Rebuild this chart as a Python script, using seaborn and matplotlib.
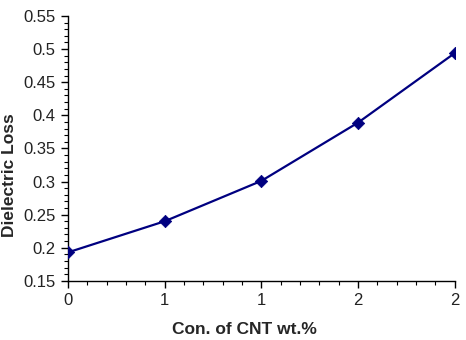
import pandas as pd
import matplotlib
matplotlib.use("Agg")
import matplotlib.pyplot as plt
import seaborn as sns
from matplotlib.ticker import MultipleLocator

# values
cnt_wt = [0.0, 0.5, 1.0, 1.5, 2.0]
dielectric_loss = [0.193, 0.240, 0.301, 0.389, 0.494]
x_tick_labels = ["0", "1", "1", "2", "2"]

df = pd.DataFrame({"Con. of CNT wt.%": cnt_wt, "Dielectric Loss": dielectric_loss})

sns.set_style("ticks")
plt.rcParams["font.family"] = ["Liberation Sans", "DejaVu Sans"]

fig = plt.figure(figsize=(4.66, 3.4), dpi=100)
ax = fig.add_axes([0.146, 0.174, 0.830, 0.779])

sns.lineplot(x="Con. of CNT wt.%", y="Dielectric Loss", data=df, color="#000080",
             linewidth=1.6, ax=ax)
sns.scatterplot(x="Con. of CNT wt.%", y="Dielectric Loss", data=df, color="#000080",
                marker="D", s=40, edgecolor="#000080", zorder=3, ax=ax)

ax.set_xlim(0, 2)
ax.set_ylim(0.15, 0.55)
ax.set_xticks(cnt_wt)
ax.set_xticklabels(x_tick_labels)
ax.xaxis.set_minor_locator(MultipleLocator(0.1))
ax.yaxis.set_major_locator(MultipleLocator(0.05))
ax.yaxis.set_minor_locator(MultipleLocator(0.01))
ax.set_yticklabels([f"{v:g}" for v in ax.get_yticks()])

ax.tick_params(axis="both", which="major", length=5, width=1, color="black",
               labelsize=12, labelcolor="#222222", pad=4)
ax.tick_params(axis="both", which="minor", length=3, width=0.8, color="black")

ax.set_xlabel("Con. of CNT wt.%", fontsize=12.5, fontweight="bold")
ax.set_ylabel("Dielectric Loss", fontsize=12.5, fontweight="bold")
ax.xaxis.set_label_coords(0.455, -0.155)
ax.yaxis.set_label_coords(-0.132, 0.40)

sns.despine(ax=ax)
for sp in ["left", "bottom"]:
    ax.spines[sp].set_color("black")
    ax.spines[sp].set_linewidth(1)

plt.savefig("out.png", dpi=100)
